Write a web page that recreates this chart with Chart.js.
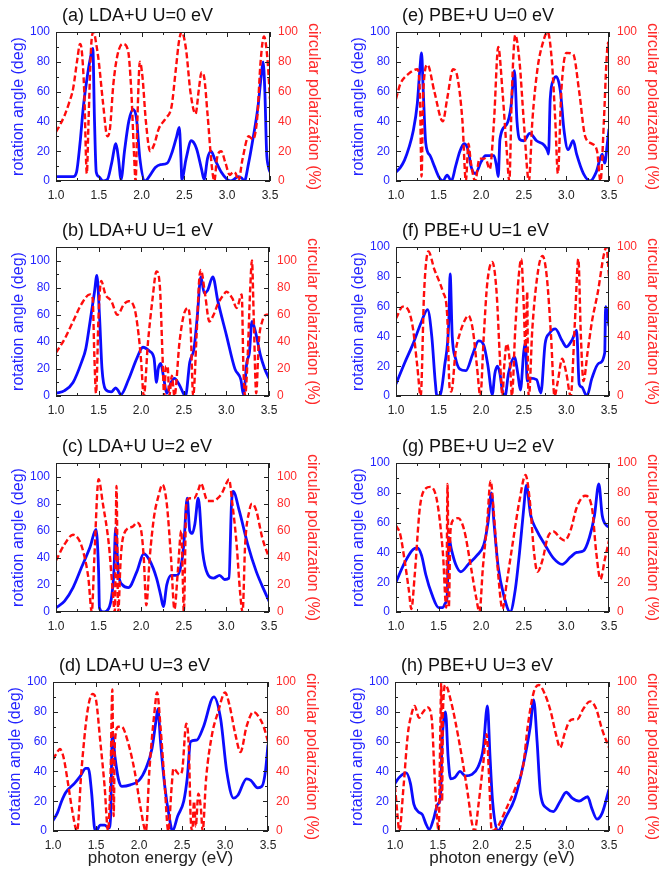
<!DOCTYPE html>
<html>
<head>
<meta charset="utf-8">
<script src="https://cdn.jsdelivr.net/npm/chart.js@4.4.0/dist/chart.umd.min.js"></script>
<style>
  html, body { margin: 0; padding: 0; background: #fff; }
  #wrap { position: relative; width: 659px; height: 873px; overflow: hidden; }
  #wrap canvas { position: absolute; }
</style>
</head>
<body>
<div id="wrap"></div>
<script>
// [photon energy (eV), value] pairs
const ldaU0Angle = [[1.0,3],[1.1,3],[1.2,3],[1.24,6],[1.28,25],[1.32,50],[1.36,68],[1.4,82],[1.43,89],[1.45,40],[1.47,6],[1.5,3],[1.55,0],[1.6,1],[1.65,12],[1.7,25],[1.73,15],[1.76,1],[1.8,20],[1.85,40],[1.9,48],[1.94,42],[1.98,15],[2.04,0],[2.1,4],[2.16,9],[2.22,11],[2.3,12],[2.36,20],[2.41,30],[2.44,36],[2.46,15],[2.47,1],[2.52,15],[2.58,27],[2.64,22],[2.7,8],[2.73,1],[2.77,15],[2.81,20],[2.86,14],[2.93,6],[3.0,1],[3.04,0],[3.1,2],[3.13,3],[3.17,2],[3.2,0],[3.25,12],[3.3,28],[3.36,50],[3.4,72],[3.42,80],[3.44,60],[3.46,20],[3.48,10],[3.5,6]];
const ldaU0Polar = [[1.0,33],[1.05,38],[1.1,44],[1.15,52],[1.2,62],[1.25,82],[1.28,92],[1.3,88],[1.33,60],[1.36,5],[1.38,40],[1.41,90],[1.44,100],[1.47,92],[1.5,80],[1.55,52],[1.6,30],[1.63,35],[1.67,65],[1.72,85],[1.78,92],[1.84,88],[1.88,60],[1.91,20],[1.93,0],[1.95,40],[1.98,80],[2.01,70],[2.05,40],[2.1,20],[2.15,25],[2.2,35],[2.28,42],[2.35,50],[2.4,75],[2.44,95],[2.47,100],[2.52,88],[2.57,60],[2.63,45],[2.67,62],[2.7,73],[2.73,70],[2.77,45],[2.82,10],[2.85,0],[2.88,15],[2.93,20],[2.98,12],[3.03,4],[3.07,6],[3.1,5],[3.13,0],[3.18,15],[3.25,30],[3.3,28],[3.35,42],[3.39,80],[3.43,97],[3.47,82],[3.5,55]];

const ldaU1Angle = [[1.0,2],[1.1,4],[1.2,10],[1.3,25],[1.35,35],[1.4,55],[1.45,76],[1.48,89],[1.51,60],[1.54,20],[1.58,5],[1.65,3],[1.7,6],[1.73,4],[1.76,1],[1.85,12],[1.95,28],[2.02,36],[2.1,33],[2.15,28],[2.18,10],[2.2,20],[2.23,24],[2.26,15],[2.3,2],[2.35,10],[2.39,13],[2.45,8],[2.52,0],[2.57,25],[2.62,35],[2.66,60],[2.7,88],[2.74,76],[2.78,78],[2.84,88],[2.9,70],[3.0,45],[3.1,20],[3.17,12],[3.2,1],[3.24,25],[3.27,32],[3.3,55],[3.35,45],[3.4,30],[3.45,20],[3.5,13]];
const ldaU1Polar = [[1.0,32],[1.1,42],[1.2,55],[1.3,68],[1.4,75],[1.43,72],[1.45,30],[1.47,2],[1.5,60],[1.53,85],[1.58,75],[1.65,70],[1.72,60],[1.8,68],[1.85,70],[1.92,65],[1.97,45],[2.0,25],[2.03,0],[2.08,40],[2.13,70],[2.18,92],[2.22,80],[2.25,30],[2.27,0],[2.29,22],[2.31,22],[2.33,0],[2.36,15],[2.39,0],[2.45,40],[2.5,60],[2.55,65],[2.58,50],[2.61,0],[2.65,45],[2.68,85],[2.7,93],[2.75,75],[2.8,55],[2.85,60],[2.9,68],[2.97,75],[3.0,77],[3.07,72],[3.12,65],[3.18,75],[3.2,20],[3.22,0],[3.25,30],[3.28,80],[3.3,100],[3.32,60],[3.35,2],[3.38,40],[3.42,55],[3.47,60],[3.5,60]];

const ldaU2Angle = [[1.0,3],[1.1,8],[1.2,18],[1.3,33],[1.4,48],[1.47,61],[1.5,30],[1.51,3],[1.55,0],[1.6,1],[1.65,10],[1.68,30],[1.7,62],[1.73,30],[1.78,20],[1.85,18],[1.95,30],[2.03,43],[2.1,38],[2.18,25],[2.23,12],[2.26,4],[2.3,20],[2.35,27],[2.42,27],[2.47,35],[2.5,50],[2.54,84],[2.57,60],[2.6,58],[2.63,65],[2.67,84],[2.72,45],[2.78,28],[2.85,25],[2.92,27],[2.98,24],[3.03,25],[3.06,80],[3.08,89],[3.15,75],[3.25,50],[3.35,30],[3.45,15],[3.5,8]];
const ldaU2Polar = [[1.0,38],[1.1,50],[1.2,57],[1.28,52],[1.33,42],[1.38,25],[1.42,0],[1.45,40],[1.5,98],[1.55,80],[1.62,50],[1.66,20],[1.69,0],[1.71,93],[1.73,0],[1.76,40],[1.8,58],[1.9,63],[1.95,66],[2.0,60],[2.03,40],[2.06,5],[2.1,40],[2.15,70],[2.2,85],[2.25,94],[2.3,80],[2.35,40],[2.39,2],[2.43,30],[2.47,60],[2.49,20],[2.5,0],[2.53,80],[2.57,84],[2.62,84],[2.67,90],[2.7,95],[2.78,82],[2.85,82],[2.9,84],[2.95,88],[3.0,95],[3.03,98],[3.07,80],[3.12,50],[3.16,15],[3.19,0],[3.22,50],[3.27,75],[3.3,80],[3.35,75],[3.42,55],[3.5,40]];

const ldaU3Angle = [[1.0,7],[1.05,12],[1.1,20],[1.15,26],[1.25,32],[1.32,37],[1.38,42],[1.41,42],[1.45,25],[1.48,3],[1.5,0],[1.55,4],[1.6,4],[1.65,2],[1.67,10],[1.69,66],[1.72,50],[1.76,35],[1.8,30],[1.9,31],[2.0,34],[2.08,42],[2.15,55],[2.2,75],[2.22,82],[2.25,60],[2.3,30],[2.35,10],[2.39,0],[2.45,10],[2.52,20],[2.56,35],[2.6,60],[2.67,61],[2.75,70],[2.87,90],[2.95,75],[3.02,40],[3.1,22],[3.15,24],[3.25,35],[3.3,34],[3.38,29],[3.43,30],[3.47,40],[3.5,58]];
const ldaU3Polar = [[1.0,48],[1.05,53],[1.08,55],[1.12,50],[1.18,30],[1.22,15],[1.28,0],[1.33,40],[1.4,80],[1.46,92],[1.5,88],[1.55,60],[1.6,30],[1.64,0],[1.67,40],[1.69,95],[1.705,10],[1.72,60],[1.76,70],[1.8,70],[1.87,60],[1.95,40],[2.02,15],[2.08,0],[2.12,40],[2.18,80],[2.21,93],[2.25,70],[2.3,30],[2.34,0],[2.38,30],[2.4,42],[2.47,38],[2.5,40],[2.55,72],[2.58,55],[2.6,10],[2.62,0],[2.64,20],[2.66,3],[2.69,25],[2.72,15],[2.74,0],[2.78,35],[2.85,65],[2.92,80],[3.0,93],[3.05,85],[3.12,65],[3.18,53],[3.25,70],[3.33,80],[3.4,76],[3.45,70],[3.5,60]];

const pbeU0Angle = [[1.0,6],[1.05,9],[1.1,14],[1.15,22],[1.2,33],[1.25,52],[1.28,75],[1.3,86],[1.32,60],[1.35,25],[1.4,17],[1.45,10],[1.5,3],[1.55,0],[1.6,4],[1.65,0],[1.7,10],[1.75,20],[1.8,25],[1.85,20],[1.88,10],[1.93,5],[2.0,13],[2.05,17],[2.15,17],[2.18,10],[2.2,3],[2.22,28],[2.3,38],[2.35,50],[2.39,74],[2.42,40],[2.45,28],[2.5,27],[2.57,32],[2.65,27],[2.74,24],[2.78,20],[2.79,18],[2.81,55],[2.85,68],[2.88,70],[2.93,60],[2.97,35],[3.02,21],[3.08,27],[3.12,18],[3.2,5],[3.28,0],[3.35,6],[3.42,18],[3.45,12],[3.48,25],[3.5,35]];
const pbeU0Polar = [[1.0,55],[1.05,65],[1.15,72],[1.25,75],[1.28,60],[1.3,3],[1.32,60],[1.37,78],[1.45,60],[1.55,40],[1.6,55],[1.67,75],[1.72,70],[1.78,40],[1.82,0],[1.85,25],[1.88,12],[1.93,0],[1.98,15],[2.05,15],[2.1,8],[2.15,40],[2.2,90],[2.25,60],[2.3,20],[2.33,0],[2.36,60],[2.4,98],[2.45,80],[2.5,40],[2.56,0],[2.6,40],[2.66,75],[2.72,92],[2.78,100],[2.83,80],[2.87,40],[2.9,5],[2.94,60],[3.0,86],[3.08,85],[3.15,60],[3.22,30],[3.3,25],[3.36,20],[3.4,0],[3.44,40],[3.47,80],[3.49,93],[3.5,85]];

const pbeU1Angle = [[1.0,8],[1.1,22],[1.2,35],[1.3,50],[1.37,58],[1.42,40],[1.46,10],[1.48,0],[1.52,1],[1.57,20],[1.62,50],[1.635,82],[1.66,40],[1.7,25],[1.75,18],[1.82,17],[1.9,28],[1.97,37],[2.03,34],[2.08,20],[2.13,1],[2.16,15],[2.19,20],[2.22,15],[2.25,3],[2.28,0],[2.32,15],[2.39,26],[2.43,15],[2.46,4],[2.5,30],[2.52,36],[2.54,10],[2.57,12],[2.65,11],[2.7,2],[2.75,35],[2.8,42],[2.87,45],[2.95,37],[3.0,33],[3.07,38],[3.12,44],[3.15,8],[3.18,6],[3.24,0],[3.3,12],[3.38,22],[3.45,29],[3.46,60],[3.5,47]];
const pbeU1Polar = [[1.0,52],[1.08,60],[1.15,57],[1.2,45],[1.25,20],[1.29,0],[1.33,70],[1.38,97],[1.45,85],[1.55,70],[1.6,55],[1.63,5],[1.65,3],[1.7,30],[1.75,42],[1.8,50],[1.85,54],[1.9,45],[1.95,20],[1.99,0],[2.03,40],[2.07,75],[2.13,90],[2.18,70],[2.22,25],[2.25,0],[2.27,20],[2.3,35],[2.34,20],[2.36,0],[2.4,45],[2.44,80],[2.47,92],[2.5,60],[2.52,30],[2.54,70],[2.55,10],[2.56,0],[2.6,45],[2.67,85],[2.72,94],[2.77,80],[2.82,40],[2.86,0],[2.9,10],[2.95,25],[3.0,15],[3.05,0],[3.1,50],[3.14,92],[3.17,40],[3.2,10],[3.25,30],[3.3,50],[3.37,70],[3.44,95],[3.47,100],[3.5,80]];

const pbeU2Angle = [[1.0,20],[1.1,33],[1.2,42],[1.25,43],[1.3,38],[1.35,25],[1.42,12],[1.5,3],[1.55,3],[1.58,6],[1.6,10],[1.62,50],[1.65,42],[1.7,32],[1.76,27],[1.85,32],[1.95,38],[2.03,45],[2.08,60],[2.12,80],[2.15,60],[2.2,30],[2.27,10],[2.34,0],[2.4,15],[2.45,40],[2.5,70],[2.53,85],[2.58,65],[2.65,55],[2.75,45],[2.85,36],[2.95,32],[3.05,37],[3.12,40],[3.2,41],[3.27,50],[3.33,65],[3.38,86],[3.42,65],[3.47,58],[3.5,57]];
const pbeU2Polar = [[1.0,58],[1.05,52],[1.1,35],[1.15,15],[1.18,2],[1.22,25],[1.28,70],[1.35,83],[1.4,84],[1.48,75],[1.55,40],[1.59,3],[1.605,86],[1.62,3],[1.64,55],[1.68,62],[1.73,63],[1.8,55],[1.88,30],[1.94,10],[1.98,0],[2.02,30],[2.07,60],[2.11,88],[2.15,65],[2.2,25],[2.25,2],[2.3,20],[2.38,50],[2.45,75],[2.52,92],[2.57,75],[2.62,40],[2.66,27],[2.72,35],[2.78,50],[2.85,54],[2.92,50],[2.98,48],[3.05,55],[3.12,70],[3.22,78],[3.3,70],[3.35,40],[3.4,22],[3.45,35],[3.5,48]];

const pbeU3Angle = [[1.0,32],[1.05,36],[1.13,39],[1.18,32],[1.22,18],[1.27,13],[1.32,11],[1.36,5],[1.4,1],[1.45,8],[1.5,18],[1.53,22],[1.55,60],[1.57,75],[1.59,80],[1.62,50],[1.65,35],[1.7,36],[1.76,40],[1.82,37],[1.9,38],[1.97,43],[2.03,55],[2.08,84],[2.11,50],[2.14,20],[2.2,0],[2.3,10],[2.4,22],[2.5,45],[2.58,70],[2.62,88],[2.66,60],[2.7,25],[2.78,15],[2.85,13],[2.93,20],[3.0,26],[3.07,22],[3.15,20],[3.25,23],[3.3,15],[3.36,8],[3.42,12],[3.5,28]];
const pbeU3Polar = [[1.0,30],[1.03,10],[1.05,0],[1.1,30],[1.15,65],[1.2,80],[1.23,84],[1.28,76],[1.33,80],[1.38,83],[1.43,75],[1.46,40],[1.49,10],[1.51,0],[1.53,70],[1.54,100],[1.55,20],[1.56,80],[1.59,98],[1.65,88],[1.7,75],[1.78,50],[1.85,25],[1.9,5],[1.93,0],[1.98,20],[2.03,45],[2.07,65],[2.1,35],[2.13,0],[2.2,3],[2.3,15],[2.4,28],[2.5,45],[2.55,70],[2.62,93],[2.68,98],[2.75,92],[2.82,80],[2.88,65],[2.93,56],[2.98,65],[3.03,73],[3.08,75],[3.13,75],[3.2,82],[3.28,87],[3.35,82],[3.42,68],[3.5,56]];

const panelTitles = ['(a) LDA+U U=0 eV', '(b) LDA+U U=1 eV', '(c) LDA+U U=2 eV', '(d) LDA+U U=3 eV',
                     '(e) PBE+U U=0 eV', '(f) PBE+U U=1 eV', '(g) PBE+U U=2 eV', '(h) PBE+U U=3 eV'];
const angleSeries = [ldaU0Angle, ldaU1Angle, ldaU2Angle, ldaU3Angle, pbeU0Angle, pbeU1Angle, pbeU2Angle, pbeU3Angle];
const polarSeries = [ldaU0Polar, ldaU1Polar, ldaU2Polar, ldaU3Polar, pbeU0Polar, pbeU1Polar, pbeU2Polar, pbeU3Polar];
const yMaxes = [100, 110, 110, 100, 100, 100, 100, 100];
const angleTitle = 'rotation angle (deg)';
const polarTitle = 'circular polarization (%)';
const energyTitle = 'photon energy (eV)';

// page layout in pixels
const cols = [{ x: 0, w: 330 }, { x: 330, w: 329 }];
const rows = [
  { top: 0, h: 217, plotTop: 32, plotBottom: 181 },
  { top: 215, h: 217, plotTop: 247, plotBottom: 396 },
  { top: 431, h: 217, plotTop: 463, plotBottom: 612 },
  { top: 650, h: 223, plotTop: 682, plotBottom: 831 }
];
const plotX = [[56, 270], [56, 269], [56, 269], [53, 268], [396, 609], [396, 609], [396, 609], [395, 609]];

const FONT = '"Liberation Sans", Arial, sans-serif';
const BLUE = '#0c0cff', BLUE_TXT = '#2424ff';
const RED = '#ff0c0c', RED_TXT = '#ff2a2a';
const INK = '#222';

const framePlugin = {
  id: 'frame',
  afterDatasetsDraw(chart) {
    const { ctx, chartArea: a, scales } = chart;
    const marks = scale => {
      const vals = scale.ticks.map(t => t.value);
      const out = vals.map(v => [v, 5]);
      for (let k = 0; k < vals.length - 1; k++) out.push([(vals[k] + vals[k + 1]) / 2, 3]);
      return out;
    };
    ctx.save();
    ctx.strokeStyle = INK;
    ctx.lineWidth = 1;
    ctx.strokeRect(a.left + 0.5, a.top + 0.5, a.right - a.left - 1, a.bottom - a.top - 1);
    ctx.beginPath();
    marks(scales.x).forEach(([v, len]) => {
      const px = Math.round(scales.x.getPixelForValue(v)) + 0.5;
      ctx.moveTo(px, a.bottom); ctx.lineTo(px, a.bottom - len);
      ctx.moveTo(px, a.top); ctx.lineTo(px, a.top + len);
    });
    marks(scales.y).forEach(([v, len]) => {
      const py = Math.round(scales.y.getPixelForValue(v)) + 0.5;
      ctx.moveTo(a.left, py); ctx.lineTo(a.left + len, py);
    });
    marks(scales.y2).forEach(([v, len]) => {
      const py = Math.round(scales.y2.getPixelForValue(v)) + 0.5;
      ctx.moveTo(a.right, py); ctx.lineTo(a.right - len, py);
    });
    ctx.stroke();
    ctx.restore();
  }
};

const titlePlugin = {
  id: 'panelTitle',
  afterDraw(chart, args, opts) {
    const { ctx, chartArea: a } = chart;
    ctx.save();
    ctx.font = '18px ' + FONT;
    ctx.fillStyle = '#111';
    ctx.textBaseline = 'middle';
    ctx.fillText(opts.text, a.left + 6, a.top - 16);
    ctx.restore();
  }
};

const wrap = document.getElementById('wrap');

function makePanel(i) {
  const col = cols[i < 4 ? 0 : 1], row = rows[i % 4];
  const [pl, pr] = plotX[i];
  const leftW = pl - col.x, rightW = col.x + col.w - pr;
  const xH = row.h - (row.plotBottom - row.top);
  const bottomRow = i % 4 === 3;

  const canvas = document.createElement('canvas');
  canvas.width = col.w; canvas.height = row.h;
  canvas.style.left = col.x + 'px'; canvas.style.top = row.top + 'px';
  canvas.style.width = col.w + 'px'; canvas.style.height = row.h + 'px';
  wrap.appendChild(canvas);

  const tickFont = { family: FONT, size: 12 };
  const titleFont = { family: FONT, size: 16, lineHeight: 1 };

  new Chart(canvas, {
    type: 'line',
    data: {
      datasets: [
        { data: polarSeries[i], yAxisID: 'y2', borderColor: RED, borderWidth: 2.4, borderDash: [6, 3], order: 0 },
        { data: angleSeries[i], yAxisID: 'y', borderColor: BLUE, borderWidth: 2.8, order: 1 }
      ]
    },
    options: {
      responsive: false,
      animation: false,
      events: [],
      layout: { padding: { top: row.plotTop - row.top, left: 0, right: 0, bottom: 0 } },
      elements: {
        point: { radius: 0 },
        line: { cubicInterpolationMode: 'monotone', fill: false }
      },
      plugins: {
        legend: { display: false },
        tooltip: { enabled: false },
        panelTitle: { text: panelTitles[i] }
      },
      scales: {
        x: {
          type: 'linear', min: 1, max: 3.5,
          grid: { display: false, drawTicks: false }, border: { display: false },
          ticks: { stepSize: 0.5, padding: 7, color: INK, font: tickFont, maxRotation: 0, autoSkip: false,
                   callback: v => v.toFixed(1) },
          title: { display: bottomRow, text: energyTitle, color: INK,
                   font: { family: FONT, size: 17, lineHeight: 1 }, padding: { top: 0, bottom: 6.5 } },
          afterFit: s => { s.height = xH; }
        },
        y: {
          position: 'left', min: 0, max: yMaxes[i],
          grid: { display: false, drawTicks: false }, border: { display: false },
          ticks: { stepSize: 20, includeBounds: false, padding: 6, color: BLUE_TXT, font: tickFont },
          title: { display: true, text: angleTitle, color: BLUE_TXT, font: titleFont,
                   padding: { top: leftW - 45, bottom: 0 } },
          afterFit: s => { s.width = leftW; }
        },
        y2: {
          position: 'right', min: 0, max: yMaxes[i],
          grid: { display: false, drawTicks: false }, border: { display: false },
          ticks: { stepSize: 20, includeBounds: false, padding: 8, color: RED_TXT, font: tickFont },
          title: { display: true, text: polarTitle, color: RED_TXT, font: titleFont,
                   padding: { top: rightW - 51, bottom: 0 } },
          afterFit: s => { s.width = rightW; }
        }
      }
    },
    plugins: [framePlugin, titlePlugin]
  });
}

for (let i = 0; i < 8; i++) makePanel(i);
</script>
</body>
</html>
